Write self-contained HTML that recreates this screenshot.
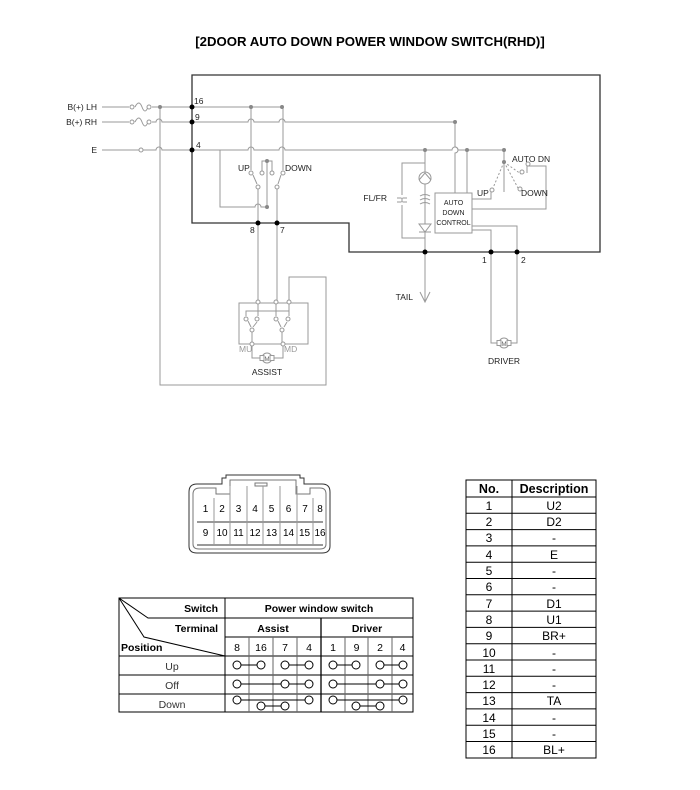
<!DOCTYPE html>
<html><head><meta charset="utf-8"><style>
html,body{margin:0;padding:0;background:#fff;}
svg{display:block;font-family:"Liberation Sans",sans-serif;}
</style></head><body>
<svg width="700" height="790" viewBox="0 0 700 790" xmlns="http://www.w3.org/2000/svg">
<text x="370" y="46" text-anchor="middle" font-size="13.2" font-weight="bold">[2DOOR AUTO DOWN POWER WINDOW SWITCH(RHD)]</text>

<!-- main box -->
<path d="M192,75 H600 V252 H349 V223 H192 Z" fill="none" stroke="#333" stroke-width="1.3"/>

<g stroke="#999" stroke-width="1" fill="none">
<path d="M102,107 H129 M135,107 q4,-8 7,0 q3,8 6,0 M152,107 H282"/>
<circle cx="132" cy="107" r="2" fill="#fff"/><circle cx="149" cy="107" r="2" fill="#fff"/>
<path d="M102,122 H129 M135,122 q4,-8 7,0 q3,8 6,0 M152,122 H156 a3,3 0 0 1 6,0 H248 a3,3 0 0 1 6,0 H279 a3,3 0 0 1 6,0 H455 V147 a3,3 0 0 1 0,6 V193"/>
<circle cx="132" cy="122" r="2" fill="#fff"/><circle cx="149" cy="122" r="2" fill="#fff"/>
<path d="M102,150 H139 M143,150 H156 a3,3 0 0 1 6,0 H248 a3,3 0 0 1 6,0 H279 a3,3 0 0 1 6,0 H452 a3,3 0 0 1 6,0 H504"/>
<circle cx="141" cy="150" r="2" fill="#fff"/>
<path d="M160,107 V385 H326 V277 H289 V302"/>
<path d="M220,150 V207 H255 a3,3 0 0 1 6,0 H267"/>
<path d="M251,107 V170 M283,107 V170"/>
<path d="M262,171 V161 H272 V171 M267,161 V207"/>
<path d="M253,175 L257,184 M281,175 L278,184"/>
<path d="M258,189 V223 M277,189 V223"/>
<path d="M258,223 V302 M277,223 V302"/>
<rect x="239" y="303" width="69" height="41"/>
<path d="M246,316 V311 H289 M258,302 V316 M276,302 V316 M289,302 V316"/>
<path d="M248,321 L251,327 M257,322 L253,327 M278,321 L281,327 M287,322 L284,327"/>
<path d="M252,332 V344 M282,332 V344"/>
<path d="M252,344 V358 H261 M283,344 V358 H273"/>
<path d="M425,150 V252 M425,163 H402 V238 H425"/>
<path d="M397,198 H407 M397,202 H407" />
<path d="M402,195 V198 M402,202 V205" stroke="#fff"/>
<circle cx="425" cy="178" r="6" fill="#fff"/>
<path d="M419,180 L425,173 L431,180"/>
<path d="M420,196 q5,-3 10,0 M420,200 q5,-3 10,0 M420,204 q5,-3 10,0"/>
<path d="M419,232 H431 M419,224 H431 L425,232 Z" fill="#fff"/>
<path d="M467,150 V193"/>
<rect x="435" y="193" width="37" height="40" fill="#fff"/>
<path d="M504,150 V162 M504,162 V192"/>
<path d="M504,162 L493,188 M504,162 L518,188 M504,162 L521,174" stroke-dasharray="2,2"/>
<path d="M491,192 V199 H472 M527,166 V173 M527,166 H546 V209 H472 M472,226 H517 V252 M472,230 H491 V252"/>
<circle cx="492" cy="190" r="2" fill="#fff"/><circle cx="520" cy="189" r="2" fill="#fff"/>
<circle cx="522" cy="172" r="2" fill="#fff"/><circle cx="528" cy="164" r="2" fill="#fff"/>
<path d="M491,252 V343 H497 M517,252 V343 H511"/>
<path d="M425,252 V302 M420,292 L425,302 L430,292"/>
<circle cx="267" cy="358" r="5" fill="#fff"/>
<rect x="260" y="355.5" width="4" height="5" fill="#fff"/><rect x="270" y="355.5" width="4" height="5" fill="#fff"/>
<circle cx="504" cy="343" r="5" fill="#fff"/>
<rect x="497" y="340.5" width="4" height="5" fill="#fff"/><rect x="507" y="340.5" width="4" height="5" fill="#fff"/>
</g>
<text x="267" y="361" font-size="6" text-anchor="middle" fill="#666">M</text>
<text x="504" y="346" font-size="6" text-anchor="middle" fill="#666">M</text>
<g stroke="#999" fill="#fff" stroke-width="1">
<circle cx="251" cy="173" r="2"/><circle cx="262" cy="173" r="2"/><circle cx="272" cy="173" r="2"/><circle cx="283" cy="173" r="2"/>
<circle cx="258" cy="187" r="2"/><circle cx="277" cy="187" r="2"/>
<circle cx="258" cy="302" r="2"/><circle cx="276" cy="302" r="2"/><circle cx="289" cy="302" r="2"/>
<circle cx="246" cy="319" r="2"/><circle cx="257" cy="319" r="2"/><circle cx="276" cy="319" r="2"/><circle cx="288" cy="319" r="2"/>
<circle cx="252" cy="330" r="2"/><circle cx="282" cy="330" r="2"/>
<circle cx="252" cy="344" r="2"/><circle cx="283" cy="344" r="2"/>
</g>
<g fill="#888">
<circle cx="160" cy="107" r="2"/><circle cx="251" cy="107" r="2"/><circle cx="282" cy="107" r="2"/>
<circle cx="267" cy="161" r="2"/><circle cx="267" cy="207" r="2"/>
<circle cx="455" cy="122" r="2"/><circle cx="425" cy="150" r="2"/><circle cx="467" cy="150" r="2"/><circle cx="504" cy="150" r="2"/>
<circle cx="504" cy="162" r="2"/>
</g>
<g fill="#000">
<circle cx="192" cy="107" r="2.5"/><circle cx="192" cy="122" r="2.5"/><circle cx="192" cy="150" r="2.5"/>
<circle cx="258" cy="223" r="2.5"/><circle cx="277" cy="223" r="2.5"/>
<circle cx="425" cy="252" r="2.5"/><circle cx="491" cy="252" r="2.5"/><circle cx="517" cy="252" r="2.5"/>
</g>
<g font-size="8.5" fill="#222">
<text x="97" y="110" text-anchor="end">B(+) LH</text>
<text x="97" y="125" text-anchor="end">B(+) RH</text>
<text x="97" y="153" text-anchor="end">E</text>
<text x="194" y="104">16</text><text x="195" y="120">9</text><text x="196" y="148">4</text>
<text x="238" y="171">UP</text><text x="285" y="171">DOWN</text>
<text x="250" y="233">8</text><text x="280" y="233">7</text>
<text x="387" y="201" text-anchor="end">FL/FR</text>
<text x="512" y="162">AUTO DN</text>
<text x="477" y="196">UP</text><text x="521" y="196">DOWN</text>
<text x="453.5" y="205" text-anchor="middle" font-size="7">AUTO</text>
<text x="453.5" y="215" text-anchor="middle" font-size="7">DOWN</text>
<text x="453.5" y="225" text-anchor="middle" font-size="7">CONTROL</text>
<text x="482" y="263">1</text><text x="521" y="263">2</text>
<text x="413" y="300" text-anchor="end">TAIL</text>
<text x="504" y="364" text-anchor="middle">DRIVER</text>
<text x="267" y="375" text-anchor="middle">ASSIST</text>
<text x="239" y="352" fill="#999">MU</text><text x="284" y="352" fill="#999">MD</text>
</g>

<g stroke="#333" fill="none" stroke-width="1">
<path d="M197,484 H222 V478 H226 V475 H300 V478 H304 V484 H322 Q330,484 330,492 V546 Q330,553 322,553 H197 Q189,553 189,546 V492 Q189,484 197,484 Z"/>
<path d="M200,488 H216 V494 H230 V480 H296 V494 H310 V488 H320 Q326,488 326,494 V544 Q326,549 320,549 H199 Q193,549 193,544 V494 Q193,488 200,488 Z" stroke="#777"/>
<rect x="255" y="483" width="12" height="3" stroke="#777"/>
<path d="M197,522 H323 M197,545 H323"/>
<path d="M214,498 V545 M230,486 V545 M247,486 V545 M263,486 V545 M280,486 V545 M297,486 V545 M313,498 V545" stroke="#999"/>
</g>
<g font-size="10" text-anchor="middle">
<text x="205.5" y="512">1</text><text x="222" y="512">2</text><text x="238.5" y="512">3</text><text x="255" y="512">4</text><text x="271.5" y="512">5</text><text x="288.5" y="512">6</text><text x="305" y="512">7</text><text x="320" y="512">8</text>
<text x="205.5" y="536">9</text><text x="222" y="536">10</text><text x="238.5" y="536">11</text><text x="255" y="536">12</text><text x="271.5" y="536">13</text><text x="288.5" y="536">14</text><text x="304.5" y="536">15</text><text x="320" y="536">16</text>
</g>

<g stroke="#000" stroke-width="1" fill="none">
<rect x="119" y="598" width="294" height="114"/>
<path d="M225,598 V712 M225,618 H413 M225,637 H413 M119,656 H413 M119,675 H413 M119,694 H413"/>
<path d="M249,637 V712 M273,637 V712 M297,637 V712 M321,618 V712 M345,637 V712 M368,637 V712 M392,637 V712" stroke="#666"/>
<path d="M321,618 V712" stroke-width="1.3"/>
<path d="M119,598 L148,618 H225 M119,598 L144,637 L225,656"/>
</g>
<g font-size="10.5" font-weight="bold">
<text x="218" y="612" text-anchor="end">Switch</text>
<text x="218" y="632" text-anchor="end">Terminal</text>
<text x="121" y="651">Position</text>
<text x="319" y="612" text-anchor="middle">Power window switch</text>
<text x="273" y="632" text-anchor="middle">Assist</text>
<text x="367" y="632" text-anchor="middle">Driver</text>
</g>
<g font-size="10.5" text-anchor="middle">
<text x="237" y="651">8</text><text x="261" y="651">16</text><text x="285" y="651">7</text><text x="309" y="651">4</text>
<text x="333" y="651">1</text><text x="356.5" y="651">9</text><text x="380" y="651">2</text><text x="402.5" y="651">4</text>
<text x="172" y="670" fill="#333">Up</text><text x="172" y="689" fill="#333">Off</text><text x="172" y="708" fill="#333">Down</text>
</g>
<g stroke="#000" stroke-width="1" fill="#fff">
<path d="M237,665 H261 M285,665 H309 M333,665 H356 M380,665 H403 M237,684 H309 M333,684 H403 M237,700 H309 M261,706 H285 M333,700 H403 M356,706 H380"/>
<circle cx="237" cy="665" r="4"/><circle cx="261" cy="665" r="4"/><circle cx="285" cy="665" r="4"/><circle cx="309" cy="665" r="4"/>
<circle cx="333" cy="665" r="4"/><circle cx="356" cy="665" r="4"/><circle cx="380" cy="665" r="4"/><circle cx="403" cy="665" r="4"/>
<circle cx="237" cy="684" r="4"/><circle cx="285" cy="684" r="4"/><circle cx="309" cy="684" r="4"/>
<circle cx="333" cy="684" r="4"/><circle cx="380" cy="684" r="4"/><circle cx="403" cy="684" r="4"/>
<circle cx="237" cy="700" r="4"/><circle cx="309" cy="700" r="4"/><circle cx="261" cy="706" r="4"/><circle cx="285" cy="706" r="4"/>
<circle cx="333" cy="700" r="4"/><circle cx="403" cy="700" r="4"/><circle cx="356" cy="706" r="4"/><circle cx="380" cy="706" r="4"/>
</g>

<g stroke="#000" stroke-width="1" fill="none">
<rect x="466" y="480" width="130" height="278"/>
<path d="M512,480 V758 M466,497 H596 M466,513.3 H596 M466,529.6 H596 M466,545.9 H596 M466,562.2 H596 M466,578.5 H596 M466,594.8 H596 M466,611.1 H596 M466,627.4 H596 M466,643.7 H596 M466,660 H596 M466,676.3 H596 M466,692.6 H596 M466,708.9 H596 M466,725.2 H596 M466,741.5 H596"/>
</g>
<g font-size="12.5" font-weight="bold" text-anchor="middle">
<text x="489" y="493">No.</text><text x="554" y="493">Description</text>
</g>
<g font-size="12" text-anchor="middle">
<text x="489" y="510">1</text><text x="554" y="510">U2</text>
<text x="489" y="526">2</text><text x="554" y="526">D2</text>
<text x="489" y="542">3</text><text x="554" y="542">-</text>
<text x="489" y="559">4</text><text x="554" y="559">E</text>
<text x="489" y="575">5</text><text x="554" y="575">-</text>
<text x="489" y="591">6</text><text x="554" y="591">-</text>
<text x="489" y="608">7</text><text x="554" y="608">D1</text>
<text x="489" y="624">8</text><text x="554" y="624">U1</text>
<text x="489" y="640">9</text><text x="554" y="640">BR+</text>
<text x="489" y="657">10</text><text x="554" y="657">-</text>
<text x="489" y="673">11</text><text x="554" y="673">-</text>
<text x="489" y="689">12</text><text x="554" y="689">-</text>
<text x="489" y="705">13</text><text x="554" y="705">TA</text>
<text x="489" y="722">14</text><text x="554" y="722">-</text>
<text x="489" y="738">15</text><text x="554" y="738">-</text>
<text x="489" y="754">16</text><text x="554" y="754">BL+</text>
</g>
</svg>
</body></html>
